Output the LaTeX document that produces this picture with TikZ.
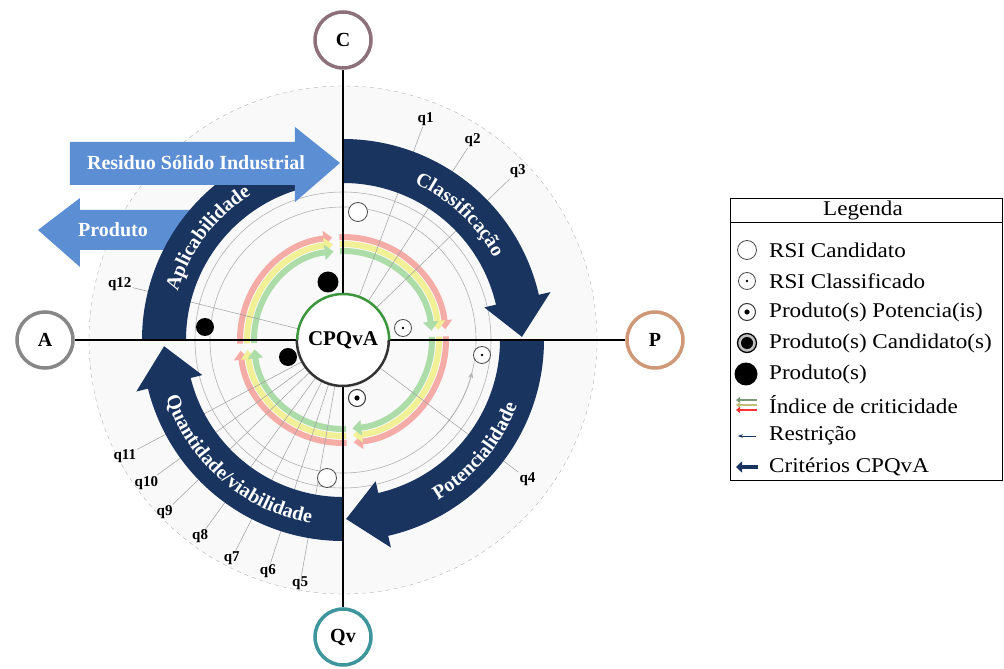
\documentclass[tikz,border=0pt]{standalone}
\usepackage{fontspec}
\setmainfont{Liberation Serif}
\newfontfamily\legfont[FakeStretch=1.1]{Liberation Serif}
\usepackage{tikz}
\usetikzlibrary{arrows.meta,decorations.text}

\definecolor{navy}{RGB}{26,52,96}
\definecolor{rsiblue}{RGB}{92,142,212}
\definecolor{critred}{RGB}{245,172,166}
\definecolor{crityellow}{RGB}{242,240,150}
\definecolor{critgreen}{RGB}{172,220,168}
\definecolor{cring}{RGB}{140,112,122}
\definecolor{pring}{RGB}{208,152,118}
\definecolor{qvring}{RGB}{62,150,156}
\definecolor{aring}{RGB}{135,135,135}
\definecolor{centregreen}{RGB}{60,150,60}

% criteria band: start angle, end angle (clockwise), then the head
\newcommand{\critband}[2]{%
  \fill[navy] (#1:201) arc[start angle=#1, end angle=#2, radius=201]
    -- (#2:213) -- ({#2-12}:179) -- (#2:145) -- (#2:157)
    arc[start angle=#2, end angle=#1, radius=157] -- cycle;}

\begin{document}
\begin{tikzpicture}[x=1pt, y=1pt,
  axisnode/.style={circle, draw, line width=3.5pt, fill=white, minimum size=56pt, font=\fontsize{20}{20}\selectfont\bfseries},
  axisline/.style={black, line width=1.6pt},
  qlabel/.style={font=\fontsize{15}{15}\selectfont\bfseries, inner sep=1pt},
  qline/.style={gray!75, line width=0.5pt},
  guide/.style={gray!60, line width=0.6pt},
  crit/.style={line width=6pt, -{Triangle[length=9pt,width=15pt]}},
  bandtext/.style={decorate, decoration={text along path, text align=center, text color=white,
    text={|\fontsize{20}{20}\selectfont\bfseries|#1}}},
  arrowtext/.style={text=white, font=\fontsize{20}{20}\selectfont\bfseries},
  cand/.style={circle, draw=gray!60!black, fill=white, line width=0.8pt, minimum size=19pt, inner sep=0pt},
  classed/.style={cand, minimum size=17pt},
  pot/.style={cand, draw=black!80, line width=1pt, minimum size=17pt},
  prodcand/.style={circle, draw=black, fill=gray!50, line width=1.3pt, minimum size=19pt, inner sep=0pt},
  prod/.style={circle, fill=black, minimum size=21pt, inner sep=0pt},
  legtext/.style={font=\legfont\fontsize{21}{21}\selectfont, inner sep=1pt}
]

\useasboundingbox (-343,-329) rectangle (661,340);

% Outer dashed circle
\draw[gray!60, fill=gray!5, dash pattern=on 4pt off 4pt] (0,0) circle (254);

% Guide circles
\draw[guide] (0,0) circle (133);
\draw[guide] (0,0) circle (148);

% Criticality index
\foreach \e in {96,6,-84,-174} {
  \draw[crit, critred] ({\e+86}:103) arc[start angle=\e+86, end angle=\e, radius=103];
  \draw[crit, crityellow] ({\e+86}:96) arc[start angle=\e+86, end angle=\e, radius=96];
  \draw[crit, critgreen] ({\e+86}:89) arc[start angle=\e+86, end angle=\e, radius=89];
}

% Centre and axis nodes
\node[circle, fill=white, minimum size=92pt, inner sep=0pt, font=\fontsize{21}{21}\selectfont\bfseries] (cpqva) at (0,0) {CPQvA};
\node[axisnode, draw=cring] (C) at (0,300) {C};
\node[axisnode, draw=pring] (P) at (312,0) {P};
\node[axisnode, draw=qvring] (Qv) at (0,-297) {Qv};
\node[axisnode, draw=aring] (A) at (-298,0) {A};

% Questions
\node[qlabel] (q1) at (69.5:236) {q1};
\node[qlabel] (q2) at (57:238) {q2};
\node[qlabel] (q3) at (44:243) {q3};
\node[qlabel] (q4) at (-37:231) {q4};
\node[qlabel] (q5) at (-100:247) {q5};
\node[qlabel] (q6) at (-108:243) {q6};
\node[qlabel] (q7) at (-117:245) {q7};
\node[qlabel] (q8) at (-126:243) {q8};
\node[qlabel] (q9) at (-136:248) {q9};
\node[qlabel] (q10) at (-144:243) {q10};
\node[qlabel] (q11) at (-152:247) {q11};
\node[qlabel] (q12) at (166:230) {q12};
\foreach \q in {1,...,12} \draw[qline] (cpqva) -- (q\q);

% Produto arrow (under the bands)
\fill[rsiblue] (-140,90) -- (-263,90) -- (-263,73) -- (-305,110) -- (-263,142) -- (-263,130) -- (-140,130) -- cycle;
\node[arrowtext] (produto) at (-230,110) {Produto};

% Criteria bands
\critband{90}{13}
\critband{0}{-77}
\critband{-90}{-166}
\fill[navy] (180:201) arc[start angle=180, end angle=106, radius=201] -- (106:157)
  arc[start angle=106, end angle=180, radius=157] -- cycle;

\path[bandtext=Classificação] (80:172) arc[start angle=80, end angle=14, radius=172];
\path[bandtext=Potencialidade] (-76:186) arc[start angle=-76, end angle=-4, radius=186];
\path[bandtext=Quantidade/viabilidade] (190:186) arc[start angle=190, end angle=268, radius=186];
\path[bandtext=Aplicabilidade] (174:172) arc[start angle=174, end angle=112, radius=172];

% Residuo arrow
\fill[rsiblue] (-273,155) -- (-48,155) -- (-48,138) -- (-3,177) -- (-48,213) -- (-48,198) -- (-273,198) -- cycle;
\node[arrowtext] (rsi) at (-147,177) {Residuo Sólido Industrial};

% Axes
\draw[axisline] (C) -- (cpqva);
\draw[axisline] (cpqva) -- (Qv);
\draw[axisline] (A) -- (cpqva);
\draw[axisline] (cpqva) -- (P);
\draw[centregreen, line width=2.5pt] (cpqva.east) arc[start angle=0, end angle=180, radius=46];
\draw[black!80, line width=2.5pt] (cpqva.west) arc[start angle=180, end angle=360, radius=46];

% Restriction
\draw[guide, -{Stealth[length=6pt,width=5pt]}] (-45:133) arc[start angle=-45, end angle=-14, radius=133];

% RSI and products
\node[cand] (rsi1) at (15,128) {};
\node[cand] (rsi2) at (-16,-138) {};
\node[classed] (cls1) at (60,12) {};
\node[classed] (cls2) at (139,-15) {};
\node[pot] (pot1) at (14,-58) {};
\node[prod] (prod1) at (-15,58) {};
\node[prod, minimum size=18pt] (prod2) at (-138,13) {};
\node[prod, minimum size=18pt] (prod3) at (-55,-17) {};

% Legend
\draw[line width=0.8pt] (387,-140) rectangle (659,142);
\draw[line width=0.8pt] (387,118) -- (659,118);
\node[legtext] (legtitle) at (520,130) {Legenda};
\node[cand] (s1) at (404,90) {};
\node[legtext, anchor=west] (t1) at (425,90) {RSI Candidato};
\node[classed] (s2) at (404,59) {};
\node[legtext, anchor=west] (t2) at (425,59) {RSI Classificado};
\node[pot] (s3) at (404,28) {};
\node[legtext, anchor=west] (t3) at (425,28) {Produto(s) Potencia(is)};
\node[prodcand] (s4) at (404,-3) {};
\node[legtext, anchor=west] (t4) at (425,-3) {Produto(s) Candidato(s)};
\node[prod, minimum size=23pt] (s5) at (403,-34) {};
\node[legtext, anchor=west] (t5) at (425,-34) {Produto(s)};
\draw[critgreen!70!black, line width=2pt, -{Triangle[length=4pt,width=6pt]}] (414,-60) -- (393,-60);
\draw[crityellow!80!black, line width=2pt, -{Triangle[length=4pt,width=6pt]}] (414,-65) -- (393,-65);
\draw[red!80, line width=2pt, -{Triangle[length=4pt,width=6pt]}] (414,-70) -- (393,-70);
\node[legtext, anchor=west] (t6) at (425,-65) {Índice de criticidade};
\draw[navy, line width=1pt, -{Stealth[length=5pt]}] (413,-96) -- (395,-96);
\node[legtext, anchor=west] (t7) at (425,-96) {Restrição};
\draw[navy, line width=4pt, -{Triangle[length=6pt,width=11pt]}] (415,-127) -- (393,-127);
\node[legtext, anchor=west] (t8) at (425,-127) {Critérios CPQvA};

% Dots inside the markers
\foreach \n in {cls1,cls2,s2} \fill (\n.center) circle (1.4pt);
\foreach \n in {pot1,s3} \fill (\n.center) circle (2.6pt);
\fill (s4.center) circle (6pt);

\end{tikzpicture}
\end{document}
